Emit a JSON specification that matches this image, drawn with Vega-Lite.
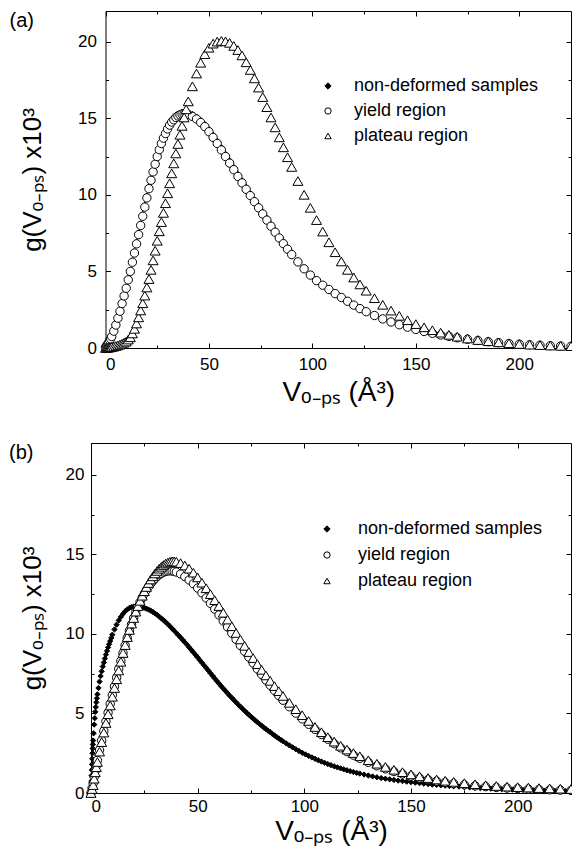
{
  "$schema": "https://vega.github.io/schema/vega-lite/v6.json",
  "padding": {"left": 8, "top": 10, "right": 0, "bottom": 0},
  "spacing": 36,
  "resolve": {"legend": {"shape": "independent", "color": "independent", "stroke": "independent"}},
  "config": {
    "font": "Liberation Sans",
    "view": {"stroke": "black", "strokeWidth": 1},
    "axis": {
      "grid": false,
      "domainColor": "black",
      "tickColor": "black",
      "labelColor": "black",
      "titleColor": "black",
      "labelFont": "Liberation Sans",
      "titleFont": "Liberation Sans",
      "labelFontSize": 17,
      "titleFontSize": 26,
      "titleFontWeight": "normal",
      "tickWidth": 1,
      "domainWidth": 1
    },
    "legend": {"labelFont": "Liberation Sans", "labelColor": "black", "labelLimit": 400, "symbolStrokeWidth": 1, "symbolOpacity": 1}
  },
  "datasets": {
    "a": [
      {"s":"n","x":0,"y":0.05},{"s":"n","x":0.5,"y":0.16},{"s":"n","x":1,"y":0.27},{"s":"n","x":1.5,"y":0.38},{"s":"n","x":2,"y":0.52},{"s":"n","x":2.5,"y":0.63},{"s":"n","x":3,"y":0.78},{"s":"n","x":4,"y":1.14},{"s":"n","x":5,"y":1.55},{"s":"n","x":6,"y":2.0},{"s":"n","x":7,"y":2.46},{"s":"n","x":8,"y":2.96},{"s":"n","x":9,"y":3.47},{"s":"n","x":10,"y":3.98},{"s":"n","x":11,"y":4.53},{"s":"n","x":12,"y":5.09},{"s":"n","x":13,"y":5.69},{"s":"n","x":14,"y":6.3},{"s":"n","x":15,"y":6.9},{"s":"n","x":16,"y":7.51},{"s":"n","x":17,"y":8.11},{"s":"n","x":18,"y":8.72},{"s":"n","x":19,"y":9.32},{"s":"n","x":20,"y":9.92},{"s":"n","x":21,"y":10.52},{"s":"n","x":22,"y":11.07},{"s":"n","x":23,"y":11.62},{"s":"n","x":24,"y":12.12},{"s":"n","x":25,"y":12.62},{"s":"n","x":26,"y":13.07},{"s":"n","x":27,"y":13.47},{"s":"n","x":28,"y":13.82},{"s":"n","x":29,"y":14.12},{"s":"n","x":30,"y":14.42},{"s":"n","x":31,"y":14.67},{"s":"n","x":32,"y":14.87},{"s":"n","x":33,"y":15.02},{"s":"n","x":34,"y":15.17},{"s":"n","x":35,"y":15.27},{"s":"n","x":36,"y":15.34},{"s":"n","x":37,"y":15.39},{"s":"n","x":38,"y":15.4},{"s":"n","x":39,"y":15.39},{"s":"n","x":40,"y":15.36},{"s":"n","x":42,"y":15.25},{"s":"n","x":44,"y":15.08},{"s":"n","x":46,"y":14.86},{"s":"n","x":48,"y":14.59},{"s":"n","x":50,"y":14.27},{"s":"n","x":52,"y":13.9},{"s":"n","x":54,"y":13.5},{"s":"n","x":56,"y":13.08},{"s":"n","x":58,"y":12.65},{"s":"n","x":60,"y":12.22},{"s":"n","x":62,"y":11.78},{"s":"n","x":64,"y":11.34},{"s":"n","x":66,"y":10.91},{"s":"n","x":68,"y":10.49},{"s":"n","x":70,"y":10.07},{"s":"n","x":72,"y":9.66},{"s":"n","x":74,"y":9.26},{"s":"n","x":76,"y":8.86},{"s":"n","x":78,"y":8.46},{"s":"n","x":80,"y":8.06},{"s":"n","x":82,"y":7.66},{"s":"n","x":84,"y":7.28},{"s":"n","x":86,"y":6.9},{"s":"n","x":88,"y":6.54},{"s":"n","x":90,"y":6.18},{"s":"n","x":93,"y":5.7},{"s":"n","x":96,"y":5.24},{"s":"n","x":99,"y":4.82},{"s":"n","x":102,"y":4.45},{"s":"n","x":105,"y":4.14},{"s":"n","x":108,"y":3.86},{"s":"n","x":111,"y":3.59},{"s":"n","x":114,"y":3.33},{"s":"n","x":117,"y":3.09},{"s":"n","x":120,"y":2.83},{"s":"n","x":123,"y":2.6},{"s":"n","x":126,"y":2.4},{"s":"n","x":130,"y":2.14},{"s":"n","x":134,"y":1.92},{"s":"n","x":138,"y":1.72},{"s":"n","x":142,"y":1.54},{"s":"n","x":146,"y":1.38},{"s":"n","x":150,"y":1.23},{"s":"n","x":154,"y":1.1},{"s":"n","x":158,"y":0.98},{"s":"n","x":162,"y":0.87},{"s":"n","x":166,"y":0.77},{"s":"n","x":170,"y":0.68},{"s":"n","x":175,"y":0.58},{"s":"n","x":180,"y":0.5},{"s":"n","x":185,"y":0.42},{"s":"n","x":190,"y":0.36},{"s":"n","x":195,"y":0.3},{"s":"n","x":200,"y":0.26},{"s":"n","x":205,"y":0.22},{"s":"n","x":210,"y":0.18},{"s":"n","x":215,"y":0.16},{"s":"n","x":220,"y":0.13},{"s":"n","x":225,"y":0.11},
      {"s":"y","x":0,"y":0.05},{"s":"y","x":0.5,"y":0.15},{"s":"y","x":1,"y":0.25},{"s":"y","x":1.5,"y":0.35},{"s":"y","x":2,"y":0.5},{"s":"y","x":2.5,"y":0.6},{"s":"y","x":3,"y":0.75},{"s":"y","x":4,"y":1.1},{"s":"y","x":5,"y":1.5},{"s":"y","x":6,"y":1.95},{"s":"y","x":7,"y":2.4},{"s":"y","x":8,"y":2.9},{"s":"y","x":9,"y":3.4},{"s":"y","x":10,"y":3.9},{"s":"y","x":11,"y":4.45},{"s":"y","x":12,"y":5.0},{"s":"y","x":13,"y":5.6},{"s":"y","x":14,"y":6.2},{"s":"y","x":15,"y":6.8},{"s":"y","x":16,"y":7.4},{"s":"y","x":17,"y":8.0},{"s":"y","x":18,"y":8.6},{"s":"y","x":19,"y":9.2},{"s":"y","x":20,"y":9.8},{"s":"y","x":21,"y":10.4},{"s":"y","x":22,"y":10.95},{"s":"y","x":23,"y":11.5},{"s":"y","x":24,"y":12.0},{"s":"y","x":25,"y":12.5},{"s":"y","x":26,"y":12.95},{"s":"y","x":27,"y":13.35},{"s":"y","x":28,"y":13.7},{"s":"y","x":29,"y":14.0},{"s":"y","x":30,"y":14.3},{"s":"y","x":31,"y":14.55},{"s":"y","x":32,"y":14.75},{"s":"y","x":33,"y":14.9},{"s":"y","x":34,"y":15.05},{"s":"y","x":35,"y":15.15},{"s":"y","x":36,"y":15.22},{"s":"y","x":37,"y":15.27},{"s":"y","x":38,"y":15.28},{"s":"y","x":39,"y":15.27},{"s":"y","x":40,"y":15.24},{"s":"y","x":42,"y":15.12},{"s":"y","x":44,"y":14.95},{"s":"y","x":46,"y":14.72},{"s":"y","x":48,"y":14.45},{"s":"y","x":50,"y":14.12},{"s":"y","x":52,"y":13.75},{"s":"y","x":54,"y":13.35},{"s":"y","x":56,"y":12.93},{"s":"y","x":58,"y":12.5},{"s":"y","x":60,"y":12.07},{"s":"y","x":62,"y":11.64},{"s":"y","x":64,"y":11.2},{"s":"y","x":66,"y":10.78},{"s":"y","x":68,"y":10.36},{"s":"y","x":70,"y":9.95},{"s":"y","x":72,"y":9.55},{"s":"y","x":74,"y":9.15},{"s":"y","x":76,"y":8.75},{"s":"y","x":78,"y":8.35},{"s":"y","x":80,"y":7.95},{"s":"y","x":82,"y":7.56},{"s":"y","x":84,"y":7.18},{"s":"y","x":86,"y":6.81},{"s":"y","x":88,"y":6.45},{"s":"y","x":90,"y":6.1},{"s":"y","x":93,"y":5.62},{"s":"y","x":96,"y":5.17},{"s":"y","x":99,"y":4.76},{"s":"y","x":102,"y":4.4},{"s":"y","x":105,"y":4.1},{"s":"y","x":108,"y":3.82},{"s":"y","x":111,"y":3.55},{"s":"y","x":114,"y":3.3},{"s":"y","x":117,"y":3.05},{"s":"y","x":120,"y":2.8},{"s":"y","x":123,"y":2.57},{"s":"y","x":126,"y":2.37},{"s":"y","x":130,"y":2.12},{"s":"y","x":134,"y":1.9},{"s":"y","x":138,"y":1.7},{"s":"y","x":142,"y":1.52},{"s":"y","x":146,"y":1.36},{"s":"y","x":150,"y":1.21},{"s":"y","x":154,"y":1.08},{"s":"y","x":158,"y":0.96},{"s":"y","x":162,"y":0.85},{"s":"y","x":166,"y":0.76},{"s":"y","x":170,"y":0.67},{"s":"y","x":175,"y":0.57},{"s":"y","x":180,"y":0.49},{"s":"y","x":185,"y":0.41},{"s":"y","x":190,"y":0.35},{"s":"y","x":195,"y":0.29},{"s":"y","x":200,"y":0.25},{"s":"y","x":205,"y":0.21},{"s":"y","x":210,"y":0.18},{"s":"y","x":215,"y":0.15},{"s":"y","x":220,"y":0.13},{"s":"y","x":225,"y":0.11},
      {"s":"p","x":0,"y":0},{"s":"p","x":0.5,"y":0.01},{"s":"p","x":1,"y":0.02},{"s":"p","x":1.5,"y":0.03},{"s":"p","x":2,"y":0.04},{"s":"p","x":2.5,"y":0.05},{"s":"p","x":3,"y":0.06},{"s":"p","x":4,"y":0.09},{"s":"p","x":5,"y":0.13},{"s":"p","x":6,"y":0.17},{"s":"p","x":7,"y":0.22},{"s":"p","x":8,"y":0.28},{"s":"p","x":9,"y":0.35},{"s":"p","x":10,"y":0.42},{"s":"p","x":11,"y":0.55},{"s":"p","x":12,"y":0.7},{"s":"p","x":13,"y":0.95},{"s":"p","x":14,"y":1.25},{"s":"p","x":15,"y":1.6},{"s":"p","x":16,"y":2.0},{"s":"p","x":17,"y":2.45},{"s":"p","x":18,"y":2.92},{"s":"p","x":19,"y":3.42},{"s":"p","x":20,"y":3.95},{"s":"p","x":21,"y":4.5},{"s":"p","x":22,"y":5.1},{"s":"p","x":23,"y":5.72},{"s":"p","x":24,"y":6.35},{"s":"p","x":25,"y":7.0},{"s":"p","x":26,"y":7.62},{"s":"p","x":27,"y":8.22},{"s":"p","x":28,"y":8.82},{"s":"p","x":29,"y":9.45},{"s":"p","x":30,"y":10.1},{"s":"p","x":31,"y":10.75},{"s":"p","x":32,"y":11.4},{"s":"p","x":33,"y":12.05},{"s":"p","x":34,"y":12.7},{"s":"p","x":35,"y":13.32},{"s":"p","x":36,"y":13.92},{"s":"p","x":37,"y":14.5},{"s":"p","x":38,"y":15.05},{"s":"p","x":39,"y":15.58},{"s":"p","x":40,"y":16.1},{"s":"p","x":42,"y":17.08},{"s":"p","x":44,"y":17.92},{"s":"p","x":46,"y":18.62},{"s":"p","x":48,"y":19.18},{"s":"p","x":50,"y":19.6},{"s":"p","x":52,"y":19.87},{"s":"p","x":54,"y":20.0},{"s":"p","x":56,"y":20.05},{"s":"p","x":58,"y":20.02},{"s":"p","x":60,"y":19.92},{"s":"p","x":62,"y":19.72},{"s":"p","x":64,"y":19.45},{"s":"p","x":66,"y":19.1},{"s":"p","x":68,"y":18.65},{"s":"p","x":70,"y":18.15},{"s":"p","x":72,"y":17.6},{"s":"p","x":74,"y":17.0},{"s":"p","x":76,"y":16.38},{"s":"p","x":78,"y":15.72},{"s":"p","x":80,"y":15.05},{"s":"p","x":82,"y":14.4},{"s":"p","x":84,"y":13.75},{"s":"p","x":86,"y":13.1},{"s":"p","x":88,"y":12.45},{"s":"p","x":90,"y":11.82},{"s":"p","x":93,"y":10.9},{"s":"p","x":96,"y":10.0},{"s":"p","x":99,"y":9.15},{"s":"p","x":102,"y":8.35},{"s":"p","x":105,"y":7.6},{"s":"p","x":108,"y":6.9},{"s":"p","x":111,"y":6.25},{"s":"p","x":114,"y":5.65},{"s":"p","x":117,"y":5.1},{"s":"p","x":120,"y":4.6},{"s":"p","x":123,"y":4.15},{"s":"p","x":126,"y":3.74},{"s":"p","x":130,"y":3.25},{"s":"p","x":134,"y":2.82},{"s":"p","x":138,"y":2.44},{"s":"p","x":142,"y":2.1},{"s":"p","x":146,"y":1.81},{"s":"p","x":150,"y":1.56},{"s":"p","x":154,"y":1.35},{"s":"p","x":158,"y":1.16},{"s":"p","x":162,"y":1.0},{"s":"p","x":166,"y":0.86},{"s":"p","x":170,"y":0.74},{"s":"p","x":175,"y":0.62},{"s":"p","x":180,"y":0.52},{"s":"p","x":185,"y":0.44},{"s":"p","x":190,"y":0.37},{"s":"p","x":195,"y":0.31},{"s":"p","x":200,"y":0.26},{"s":"p","x":205,"y":0.22},{"s":"p","x":210,"y":0.19},{"s":"p","x":215,"y":0.16},{"s":"p","x":220,"y":0.14},{"s":"p","x":225,"y":0.12}
    ],
    "b": [
      {"s":"n","x":0,"y":0},{"s":"n","x":0.1,"y":0.4},{"s":"n","x":0.2,"y":0.75},{"s":"n","x":0.3,"y":1.1},{"s":"n","x":0.4,"y":1.45},{"s":"n","x":0.5,"y":1.8},{"s":"n","x":0.6,"y":2.15},{"s":"n","x":0.7,"y":2.5},{"s":"n","x":0.8,"y":2.8},{"s":"n","x":0.9,"y":3.05},{"s":"n","x":1,"y":3.3},{"s":"n","x":1.2,"y":3.75},{"s":"n","x":1.5,"y":4.3},{"s":"n","x":1.75,"y":4.7},{"s":"n","x":2,"y":5.1},{"s":"n","x":2.25,"y":5.4},{"s":"n","x":2.5,"y":5.7},{"s":"n","x":2.75,"y":5.95},{"s":"n","x":3,"y":6.2},{"s":"n","x":3.5,"y":6.6},{"s":"n","x":4,"y":7.0},{"s":"n","x":4.5,"y":7.35},{"s":"n","x":5,"y":7.65},{"s":"n","x":5.5,"y":7.95},{"s":"n","x":6,"y":8.2},{"s":"n","x":6.5,"y":8.45},{"s":"n","x":7,"y":8.7},{"s":"n","x":7.5,"y":8.93},{"s":"n","x":8,"y":9.15},{"s":"n","x":8.5,"y":9.35},{"s":"n","x":9,"y":9.55},{"s":"n","x":9.5,"y":9.75},{"s":"n","x":10,"y":9.95},{"s":"n","x":11,"y":10.28},{"s":"n","x":12,"y":10.58},{"s":"n","x":13,"y":10.85},{"s":"n","x":14,"y":11.07},{"s":"n","x":15,"y":11.26},{"s":"n","x":16,"y":11.42},{"s":"n","x":17,"y":11.54},{"s":"n","x":18,"y":11.63},{"s":"n","x":19,"y":11.69},{"s":"n","x":20,"y":11.72},{"s":"n","x":21,"y":11.73},{"s":"n","x":22,"y":11.73},{"s":"n","x":23,"y":11.71},{"s":"n","x":24,"y":11.68},{"s":"n","x":25,"y":11.64},{"s":"n","x":26,"y":11.59},{"s":"n","x":27,"y":11.53},{"s":"n","x":28,"y":11.46},{"s":"n","x":29,"y":11.38},{"s":"n","x":30,"y":11.29},{"s":"n","x":31,"y":11.19},{"s":"n","x":32,"y":11.08},{"s":"n","x":33,"y":10.97},{"s":"n","x":34,"y":10.86},{"s":"n","x":35,"y":10.74},{"s":"n","x":36,"y":10.61},{"s":"n","x":37,"y":10.48},{"s":"n","x":38,"y":10.34},{"s":"n","x":39,"y":10.2},{"s":"n","x":40,"y":10.06},{"s":"n","x":41,"y":9.92},{"s":"n","x":42,"y":9.77},{"s":"n","x":43,"y":9.62},{"s":"n","x":44,"y":9.47},{"s":"n","x":45,"y":9.32},{"s":"n","x":46,"y":9.16},{"s":"n","x":47,"y":9.0},{"s":"n","x":48,"y":8.84},{"s":"n","x":49,"y":8.68},{"s":"n","x":50,"y":8.52},{"s":"n","x":51,"y":8.35},{"s":"n","x":52,"y":8.19},{"s":"n","x":53,"y":8.02},{"s":"n","x":54,"y":7.86},{"s":"n","x":55,"y":7.7},{"s":"n","x":56,"y":7.53},{"s":"n","x":57,"y":7.37},{"s":"n","x":58,"y":7.2},{"s":"n","x":59,"y":7.04},{"s":"n","x":60,"y":6.88},{"s":"n","x":61,"y":6.72},{"s":"n","x":62,"y":6.57},{"s":"n","x":63,"y":6.42},{"s":"n","x":64,"y":6.27},{"s":"n","x":65,"y":6.12},{"s":"n","x":66,"y":5.98},{"s":"n","x":67,"y":5.84},{"s":"n","x":68,"y":5.7},{"s":"n","x":69,"y":5.56},{"s":"n","x":70,"y":5.43},{"s":"n","x":71,"y":5.3},{"s":"n","x":72,"y":5.17},{"s":"n","x":73,"y":5.04},{"s":"n","x":74,"y":4.92},{"s":"n","x":75,"y":4.8},{"s":"n","x":76,"y":4.68},{"s":"n","x":77,"y":4.56},{"s":"n","x":78,"y":4.45},{"s":"n","x":79,"y":4.34},{"s":"n","x":80,"y":4.23},{"s":"n","x":81,"y":4.12},{"s":"n","x":82,"y":4.02},{"s":"n","x":83,"y":3.92},{"s":"n","x":84,"y":3.82},{"s":"n","x":85,"y":3.72},{"s":"n","x":86,"y":3.62},{"s":"n","x":87,"y":3.52},{"s":"n","x":88,"y":3.43},{"s":"n","x":89,"y":3.34},{"s":"n","x":90,"y":3.25},{"s":"n","x":91.5,"y":3.12},{"s":"n","x":93,"y":2.99},{"s":"n","x":94.5,"y":2.87},{"s":"n","x":96,"y":2.75},{"s":"n","x":97.5,"y":2.64},{"s":"n","x":99,"y":2.53},{"s":"n","x":100.5,"y":2.43},{"s":"n","x":102,"y":2.33},{"s":"n","x":103.5,"y":2.24},{"s":"n","x":105,"y":2.15},{"s":"n","x":106.5,"y":2.06},{"s":"n","x":108,"y":1.98},{"s":"n","x":109.5,"y":1.9},{"s":"n","x":111,"y":1.82},{"s":"n","x":112.5,"y":1.75},{"s":"n","x":114,"y":1.68},{"s":"n","x":115.5,"y":1.61},{"s":"n","x":117,"y":1.55},{"s":"n","x":118.5,"y":1.49},{"s":"n","x":120,"y":1.43},{"s":"n","x":121.5,"y":1.37},{"s":"n","x":123,"y":1.32},{"s":"n","x":124.5,"y":1.27},{"s":"n","x":126,"y":1.22},{"s":"n","x":128,"y":1.16},{"s":"n","x":130,"y":1.1},{"s":"n","x":132,"y":1.04},{"s":"n","x":134,"y":0.99},{"s":"n","x":136,"y":0.94},{"s":"n","x":138,"y":0.9},{"s":"n","x":140,"y":0.86},{"s":"n","x":142,"y":0.82},{"s":"n","x":144,"y":0.78},{"s":"n","x":146,"y":0.75},{"s":"n","x":148,"y":0.71},{"s":"n","x":150,"y":0.68},{"s":"n","x":152,"y":0.65},{"s":"n","x":154,"y":0.62},{"s":"n","x":156,"y":0.59},{"s":"n","x":158,"y":0.56},{"s":"n","x":160,"y":0.53},{"s":"n","x":162,"y":0.51},{"s":"n","x":164,"y":0.48},{"s":"n","x":166,"y":0.46},{"s":"n","x":168,"y":0.44},{"s":"n","x":170,"y":0.42},{"s":"n","x":172.5,"y":0.4},{"s":"n","x":175,"y":0.37},{"s":"n","x":177.5,"y":0.35},{"s":"n","x":180,"y":0.33},{"s":"n","x":182.5,"y":0.31},{"s":"n","x":185,"y":0.29},{"s":"n","x":187.5,"y":0.27},{"s":"n","x":190,"y":0.26},{"s":"n","x":192.5,"y":0.245},{"s":"n","x":195,"y":0.23},{"s":"n","x":197.5,"y":0.215},{"s":"n","x":200,"y":0.2},{"s":"n","x":202.5,"y":0.19},{"s":"n","x":205,"y":0.18},{"s":"n","x":207.5,"y":0.17},{"s":"n","x":210,"y":0.16},{"s":"n","x":212.5,"y":0.15},{"s":"n","x":215,"y":0.14},{"s":"n","x":217.5,"y":0.13},{"s":"n","x":220,"y":0.12},{"s":"n","x":222.5,"y":0.115},{"s":"n","x":225,"y":0.11},
      {"s":"y","x":0,"y":0},{"s":"y","x":0.5,"y":0.3},{"s":"y","x":1,"y":0.6},{"s":"y","x":1.5,"y":1.0},{"s":"y","x":2,"y":1.4},{"s":"y","x":2.5,"y":1.7},{"s":"y","x":3,"y":2.05},{"s":"y","x":4,"y":2.7},{"s":"y","x":5,"y":3.3},{"s":"y","x":6,"y":3.9},{"s":"y","x":7,"y":4.5},{"s":"y","x":8,"y":5.05},{"s":"y","x":9,"y":5.6},{"s":"y","x":10,"y":6.15},{"s":"y","x":11,"y":6.7},{"s":"y","x":12,"y":7.25},{"s":"y","x":13,"y":7.8},{"s":"y","x":14,"y":8.3},{"s":"y","x":15,"y":8.8},{"s":"y","x":16,"y":9.28},{"s":"y","x":17,"y":9.75},{"s":"y","x":18,"y":10.2},{"s":"y","x":19,"y":10.6},{"s":"y","x":20,"y":11.0},{"s":"y","x":21,"y":11.35},{"s":"y","x":22,"y":11.7},{"s":"y","x":23,"y":12.0},{"s":"y","x":24,"y":12.28},{"s":"y","x":25,"y":12.53},{"s":"y","x":26,"y":12.76},{"s":"y","x":27,"y":12.97},{"s":"y","x":28,"y":13.16},{"s":"y","x":29,"y":13.33},{"s":"y","x":30,"y":13.48},{"s":"y","x":31,"y":13.61},{"s":"y","x":32,"y":13.72},{"s":"y","x":33,"y":13.81},{"s":"y","x":34,"y":13.88},{"s":"y","x":35,"y":13.93},{"s":"y","x":36,"y":13.96},{"s":"y","x":37,"y":13.97},{"s":"y","x":38,"y":13.96},{"s":"y","x":39,"y":13.93},{"s":"y","x":40,"y":13.89},{"s":"y","x":42,"y":13.77},{"s":"y","x":44,"y":13.6},{"s":"y","x":46,"y":13.39},{"s":"y","x":48,"y":13.15},{"s":"y","x":50,"y":12.88},{"s":"y","x":52,"y":12.58},{"s":"y","x":54,"y":12.26},{"s":"y","x":56,"y":11.92},{"s":"y","x":58,"y":11.56},{"s":"y","x":60,"y":11.19},{"s":"y","x":62,"y":10.81},{"s":"y","x":64,"y":10.43},{"s":"y","x":66,"y":10.04},{"s":"y","x":68,"y":9.66},{"s":"y","x":70,"y":9.28},{"s":"y","x":72,"y":8.91},{"s":"y","x":74,"y":8.54},{"s":"y","x":76,"y":8.17},{"s":"y","x":78,"y":7.8},{"s":"y","x":80,"y":7.45},{"s":"y","x":82,"y":7.1},{"s":"y","x":84,"y":6.77},{"s":"y","x":86,"y":6.45},{"s":"y","x":88,"y":6.13},{"s":"y","x":90,"y":5.83},{"s":"y","x":93,"y":5.42},{"s":"y","x":96,"y":5.02},{"s":"y","x":99,"y":4.66},{"s":"y","x":102,"y":4.32},{"s":"y","x":105,"y":4.0},{"s":"y","x":108,"y":3.68},{"s":"y","x":111,"y":3.38},{"s":"y","x":114,"y":3.1},{"s":"y","x":117,"y":2.84},{"s":"y","x":120,"y":2.6},{"s":"y","x":123,"y":2.38},{"s":"y","x":126,"y":2.18},{"s":"y","x":130,"y":1.93},{"s":"y","x":134,"y":1.71},{"s":"y","x":138,"y":1.52},{"s":"y","x":142,"y":1.35},{"s":"y","x":146,"y":1.2},{"s":"y","x":150,"y":1.06},{"s":"y","x":154,"y":0.94},{"s":"y","x":158,"y":0.84},{"s":"y","x":162,"y":0.75},{"s":"y","x":166,"y":0.67},{"s":"y","x":170,"y":0.6},{"s":"y","x":175,"y":0.52},{"s":"y","x":180,"y":0.45},{"s":"y","x":185,"y":0.4},{"s":"y","x":190,"y":0.35},{"s":"y","x":195,"y":0.31},{"s":"y","x":200,"y":0.28},{"s":"y","x":205,"y":0.25},{"s":"y","x":210,"y":0.22},{"s":"y","x":215,"y":0.2},{"s":"y","x":220,"y":0.18},{"s":"y","x":225,"y":0.16},
      {"s":"p","x":0,"y":0},{"s":"p","x":0.5,"y":0.25},{"s":"p","x":1,"y":0.5},{"s":"p","x":1.5,"y":0.9},{"s":"p","x":2,"y":1.3},{"s":"p","x":2.5,"y":1.62},{"s":"p","x":3,"y":1.95},{"s":"p","x":4,"y":2.6},{"s":"p","x":5,"y":3.2},{"s":"p","x":6,"y":3.8},{"s":"p","x":7,"y":4.4},{"s":"p","x":8,"y":4.95},{"s":"p","x":9,"y":5.5},{"s":"p","x":10,"y":6.05},{"s":"p","x":11,"y":6.6},{"s":"p","x":12,"y":7.15},{"s":"p","x":13,"y":7.7},{"s":"p","x":14,"y":8.25},{"s":"p","x":15,"y":8.8},{"s":"p","x":16,"y":9.3},{"s":"p","x":17,"y":9.8},{"s":"p","x":18,"y":10.25},{"s":"p","x":19,"y":10.65},{"s":"p","x":20,"y":11.0},{"s":"p","x":21,"y":11.4},{"s":"p","x":22,"y":11.75},{"s":"p","x":23,"y":12.08},{"s":"p","x":24,"y":12.4},{"s":"p","x":25,"y":12.68},{"s":"p","x":26,"y":12.95},{"s":"p","x":27,"y":13.2},{"s":"p","x":28,"y":13.42},{"s":"p","x":29,"y":13.62},{"s":"p","x":30,"y":13.8},{"s":"p","x":31,"y":13.96},{"s":"p","x":32,"y":14.1},{"s":"p","x":33,"y":14.22},{"s":"p","x":34,"y":14.33},{"s":"p","x":35,"y":14.42},{"s":"p","x":36,"y":14.48},{"s":"p","x":37,"y":14.53},{"s":"p","x":38,"y":14.56},{"s":"p","x":39,"y":14.56},{"s":"p","x":40,"y":14.54},{"s":"p","x":42,"y":14.45},{"s":"p","x":44,"y":14.3},{"s":"p","x":46,"y":14.1},{"s":"p","x":48,"y":13.85},{"s":"p","x":50,"y":13.55},{"s":"p","x":52,"y":13.22},{"s":"p","x":54,"y":12.87},{"s":"p","x":56,"y":12.5},{"s":"p","x":58,"y":12.12},{"s":"p","x":60,"y":11.75},{"s":"p","x":62,"y":11.33},{"s":"p","x":64,"y":10.9},{"s":"p","x":66,"y":10.48},{"s":"p","x":68,"y":10.06},{"s":"p","x":70,"y":9.65},{"s":"p","x":72,"y":9.25},{"s":"p","x":74,"y":8.86},{"s":"p","x":76,"y":8.48},{"s":"p","x":78,"y":8.1},{"s":"p","x":80,"y":7.74},{"s":"p","x":82,"y":7.39},{"s":"p","x":84,"y":7.05},{"s":"p","x":86,"y":6.72},{"s":"p","x":88,"y":6.4},{"s":"p","x":90,"y":6.1},{"s":"p","x":93,"y":5.67},{"s":"p","x":96,"y":5.27},{"s":"p","x":99,"y":4.89},{"s":"p","x":102,"y":4.53},{"s":"p","x":105,"y":4.15},{"s":"p","x":108,"y":3.82},{"s":"p","x":111,"y":3.51},{"s":"p","x":114,"y":3.23},{"s":"p","x":117,"y":2.97},{"s":"p","x":120,"y":2.73},{"s":"p","x":123,"y":2.51},{"s":"p","x":126,"y":2.31},{"s":"p","x":130,"y":2.06},{"s":"p","x":134,"y":1.84},{"s":"p","x":138,"y":1.64},{"s":"p","x":142,"y":1.46},{"s":"p","x":146,"y":1.31},{"s":"p","x":150,"y":1.17},{"s":"p","x":154,"y":1.05},{"s":"p","x":158,"y":0.94},{"s":"p","x":162,"y":0.85},{"s":"p","x":166,"y":0.77},{"s":"p","x":170,"y":0.7},{"s":"p","x":175,"y":0.62},{"s":"p","x":180,"y":0.55},{"s":"p","x":185,"y":0.49},{"s":"p","x":190,"y":0.44},{"s":"p","x":195,"y":0.4},{"s":"p","x":200,"y":0.37},{"s":"p","x":205,"y":0.34},{"s":"p","x":210,"y":0.31},{"s":"p","x":215,"y":0.29},{"s":"p","x":220,"y":0.27},{"s":"p","x":225,"y":0.25}
    ]
  },
  "vconcat": [
    {
      "width": 480,
      "height": 337,
      "view": {"stroke": null},
      "title": {"text": "(a)", "anchor": "start", "frame": "bounds", "offset": -20, "dx": -10, "fontSize": 20, "fontWeight": "normal", "font": "Liberation Sans", "color": "black"},
      "data": {"name": "a"},
      "resolve": {"axis": {"x": "independent", "y": "independent"}},
      "layer": [
        {
          "mark": {"type": "point", "filled": true, "opacity": 1, "strokeWidth": 1},
          "encoding": {
            "x": {"field": "x", "type": "quantitative", "scale": {"domain": [0, 225], "range": [14.5, 480], "nice": false, "zero": false},
              "axis": {"orient": "bottom", "values": [0, 50, 100, 150, 200], "tickSize": -5, "labelPadding": 13, "title": "Vₒ₋ₚₛ (Å³)", "titlePadding": 6, "titleFontSize": 28}},
            "y": {"field": "y", "type": "quantitative", "scale": {"domain": [0, 22], "nice": false, "zero": false},
              "axis": {"orient": "left", "offset": -14.5, "values": [0, 5, 10, 15, 20], "tickSize": -5, "labelPadding": 14, "title": "g(Vₒ₋ₚₛ) x10³", "titlePadding": 32}},
            "shape": {"field": "s", "type": "nominal", "scale": {"domain": ["n", "y", "p"], "range": ["diamond", "circle", "triangle-up"]},
              "legend": {"orient": "none", "legendX": 228, "legendY": 66, "title": null, "labelFontSize": 18, "symbolSize": 40, "labelOffset": 17, "rowPadding": 7,
                "labelExpr": "datum.label == 'n' ? 'non-deformed samples' : datum.label == 'y' ? 'yield region' : 'plateau region'"}},
            "color": {"field": "s", "type": "nominal", "scale": {"domain": ["n", "y", "p"], "range": ["black", "white", "white"]},
              "legend": {"orient": "none", "legendX": 228, "legendY": 66, "title": null, "labelFontSize": 18, "symbolSize": 40, "labelOffset": 17, "rowPadding": 7,
                "labelExpr": "datum.label == 'n' ? 'non-deformed samples' : datum.label == 'y' ? 'yield region' : 'plateau region'"}},
            "stroke": {"field": "s", "type": "nominal", "scale": {"domain": ["n", "y", "p"], "range": ["black", "black", "black"]},
              "legend": {"orient": "none", "legendX": 228, "legendY": 66, "title": null, "labelFontSize": 18, "symbolSize": 40, "labelOffset": 17, "rowPadding": 7,
                "labelExpr": "datum.label == 'n' ? 'non-deformed samples' : datum.label == 'y' ? 'yield region' : 'plateau region'"}},
            "size": {"condition": [{"test": "datum.s == 'n'", "value": 36}, {"test": "datum.s == 'p'", "value": 100}], "value": 70}
          }
        },
        {
          "mark": {"type": "point", "opacity": 0},
          "encoding": {
            "x": {"field": "x", "type": "quantitative", "axis": {"orient": "top", "values": [0, 50, 100, 150, 200], "tickSize": -5, "labels": false, "domain": true, "title": null}},
            "y": {"field": "y", "type": "quantitative", "axis": {"orient": "right", "values": [0, 5, 10, 15, 20], "tickSize": -5, "labels": false, "domain": true, "title": null}}
          }
        },
        {
          "mark": {"type": "point", "opacity": 0},
          "encoding": {
            "x": {"field": "x", "type": "quantitative", "axis": {"orient": "bottom", "values": [25, 75, 125, 175], "tickSize": -3, "labels": false, "domain": false, "title": null}},
            "y": {"field": "y", "type": "quantitative", "axis": {"orient": "left", "offset": -14.5, "values": [2.5, 7.5, 12.5, 17.5], "tickSize": -3, "labels": false, "domain": false, "title": null}}
          }
        },
        {
          "mark": {"type": "point", "opacity": 0},
          "encoding": {
            "x": {"field": "x", "type": "quantitative", "axis": {"orient": "top", "values": [25, 75, 125, 175], "tickSize": -3, "labels": false, "domain": false, "title": null}},
            "y": {"field": "y", "type": "quantitative", "axis": {"orient": "right", "values": [2.5, 7.5, 12.5, 17.5], "tickSize": -3, "labels": false, "domain": false, "title": null}}
          }
        }
      ]
    },
    {
      "width": 480,
      "height": 350,
      "title": {"text": "(b)", "anchor": "start", "frame": "bounds", "offset": -20, "dx": -10, "fontSize": 20, "fontWeight": "normal", "font": "Liberation Sans", "color": "black"},
      "data": {"name": "b"},
      "resolve": {"axis": {"x": "independent", "y": "independent"}},
      "layer": [
        {
          "mark": {"type": "point", "filled": true, "opacity": 1, "strokeWidth": 1},
          "encoding": {
            "x": {"field": "x", "type": "quantitative", "scale": {"domain": [0, 225], "nice": false, "zero": false},
              "axis": {"orient": "bottom", "values": [0, 50, 100, 150, 200], "tickSize": -5, "labelPadding": 10, "title": "Vₒ₋ₚₛ (Å³)", "titlePadding": 3, "titleFontSize": 28}},
            "y": {"field": "y", "type": "quantitative", "scale": {"domain": [0, 22], "nice": false, "zero": false},
              "axis": {"orient": "left", "values": [0, 5, 10, 15, 20], "tickSize": -5, "labelPadding": 12, "title": "g(Vₒ₋ₚₛ) x10³", "titlePadding": 20}},
            "shape": {"field": "s", "type": "nominal", "scale": {"domain": ["n", "y", "p"], "range": ["diamond", "circle", "triangle-up"]},
              "legend": {"orient": "none", "legendX": 227, "legendY": 77, "title": null, "labelFontSize": 18, "symbolSize": 40, "labelOffset": 22, "rowPadding": 8,
                "labelExpr": "datum.label == 'n' ? 'non-deformed samples' : datum.label == 'y' ? 'yield region' : 'plateau region'"}},
            "color": {"field": "s", "type": "nominal", "scale": {"domain": ["n", "y", "p"], "range": ["black", "white", "white"]},
              "legend": {"orient": "none", "legendX": 227, "legendY": 77, "title": null, "labelFontSize": 18, "symbolSize": 40, "labelOffset": 22, "rowPadding": 8,
                "labelExpr": "datum.label == 'n' ? 'non-deformed samples' : datum.label == 'y' ? 'yield region' : 'plateau region'"}},
            "stroke": {"field": "s", "type": "nominal", "scale": {"domain": ["n", "y", "p"], "range": ["black", "black", "black"]},
              "legend": {"orient": "none", "legendX": 227, "legendY": 77, "title": null, "labelFontSize": 18, "symbolSize": 40, "labelOffset": 22, "rowPadding": 8,
                "labelExpr": "datum.label == 'n' ? 'non-deformed samples' : datum.label == 'y' ? 'yield region' : 'plateau region'"}},
            "size": {"condition": [{"test": "datum.s == 'n'", "value": 28}, {"test": "datum.s == 'p'", "value": 100}], "value": 70}
          }
        },
        {
          "mark": {"type": "point", "opacity": 0},
          "encoding": {
            "x": {"field": "x", "type": "quantitative", "axis": {"orient": "top", "values": [0, 50, 100, 150, 200], "tickSize": -5, "labels": false, "domain": false, "title": null}},
            "y": {"field": "y", "type": "quantitative", "axis": {"orient": "right", "values": [0, 5, 10, 15, 20], "tickSize": -5, "labels": false, "domain": false, "title": null}}
          }
        },
        {
          "mark": {"type": "point", "opacity": 0},
          "encoding": {
            "x": {"field": "x", "type": "quantitative", "axis": {"orient": "bottom", "values": [25, 75, 125, 175], "tickSize": -3, "labels": false, "domain": false, "title": null}},
            "y": {"field": "y", "type": "quantitative", "axis": {"orient": "left", "values": [2.5, 7.5, 12.5, 17.5], "tickSize": -3, "labels": false, "domain": false, "title": null}}
          }
        },
        {
          "mark": {"type": "point", "opacity": 0},
          "encoding": {
            "x": {"field": "x", "type": "quantitative", "axis": {"orient": "top", "values": [25, 75, 125, 175], "tickSize": -3, "labels": false, "domain": false, "title": null}},
            "y": {"field": "y", "type": "quantitative", "axis": {"orient": "right", "values": [2.5, 7.5, 12.5, 17.5], "tickSize": -3, "labels": false, "domain": false, "title": null}}
          }
        }
      ]
    }
  ]
}
